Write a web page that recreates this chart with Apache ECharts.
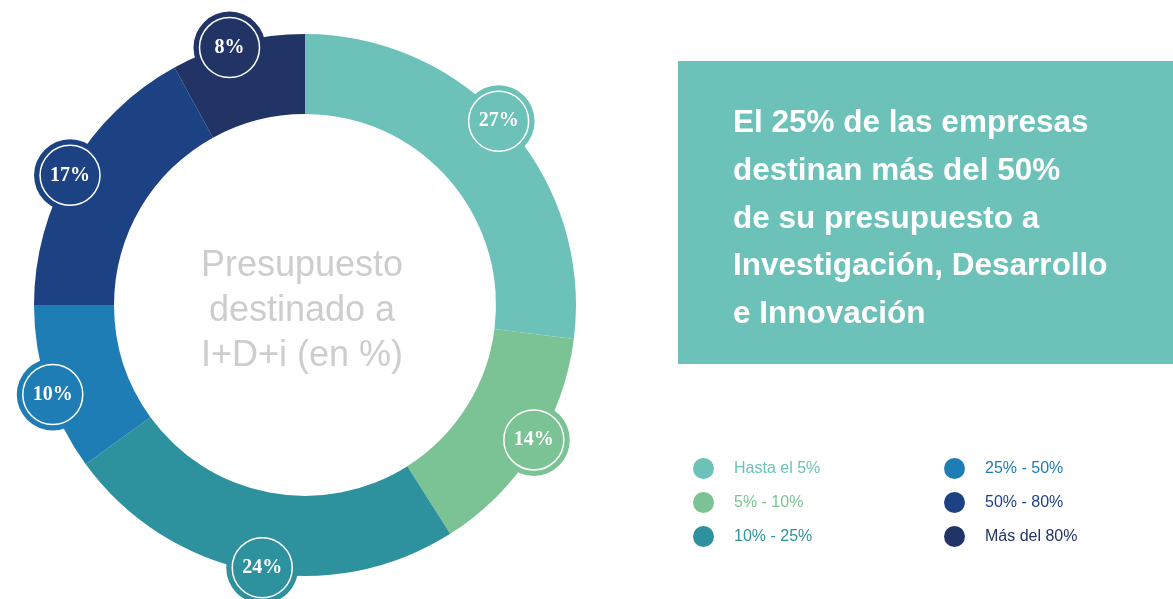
<!DOCTYPE html>
<html>
<head>
<meta charset="utf-8">
<script src="https://cdn.jsdelivr.net/npm/echarts@6/dist/echarts.min.js"></script>
<style>
  html, body { margin: 0; padding: 0; background: #fff; }
  #main { width: 1173px; height: 599px; }
</style>
</head>
<body>
<div id="main"></div>
<script>
// categorias y valores (% de empresas)
var categories = ['Hasta el 5%', '5% - 10%', '10% - 25%', '25% - 50%', '50% - 80%', 'Más del 80%'];
var shares = [27, 14, 24, 10, 17, 8];
var colors = ['#6cc2b8', '#7bc394', '#2e929e', '#1e7db5', '#1d4283', '#223466'];
var headline = ['El 25% de las empresas', 'destinan más del 50%', 'de su presupuesto a',
    'Investigación, Desarrollo', 'e Innovación'];
var centerText = ['Presupuesto', 'destinado a', 'I+D+i (en %)'];

var myChart = echarts.init(document.getElementById('main'));

// posicion angular de cada etiqueta (mitad de cada sector)
var badgeData = [];
var acc = 0;
shares.forEach(function(v, i) {
    badgeData.push({ value: [1, acc + v / 2], itemStyle: { color: colors[i] } });
    acc += v;
});

var pieData = categories.map(function(name, i) {
    return { name: name, value: shares[i], itemStyle: { color: colors[i] } };
});

function legendItems(from, to) {
    return categories.slice(from, to).map(function(name, i) {
        return { name: name, textStyle: { color: colors[from + i] } };
    });
}

var legendBase = {
    orient: 'vertical',
    top: 458,
    padding: 0,
    icon: 'circle',
    itemWidth: 21,
    itemHeight: 21,
    itemGap: 13,
    selectedMode: false,
    textStyle: {
        fontFamily: 'Liberation Sans, Arial, sans-serif',
        fontSize: 16,
        padding: [0, 0, 0, 15]
    }
};

var option = {
    animation: false,
    legend: [
        Object.assign({}, legendBase, { left: 693, data: legendItems(0, 3) }),
        Object.assign({}, legendBase, { left: 944, data: legendItems(3, 6) })
    ],
    polar: {
        center: [304, 304],
        radius: 267
    },
    angleAxis: {
        type: 'value',
        min: 0,
        max: 100,
        startAngle: 91.8,
        clockwise: true,
        show: false
    },
    radiusAxis: {
        type: 'value',
        min: 0,
        max: 1,
        show: false
    },
    graphic: [
        {
            type: 'rect',
            shape: { x: 678, y: 61, width: 495, height: 303 },
            style: { fill: '#6cc2b8' }
        },
        {
            type: 'text',
            style: {
                x: 733,
                y: 219,
                text: headline.join('\n'),
                fill: '#ffffff',
                font: 'bold 31.5px "Liberation Sans", Arial, sans-serif',
                lineHeight: 47.8,
                align: 'left',
                verticalAlign: 'middle'
            }
        },
        {
            type: 'text',
            z: 10,
            style: {
                x: 302,
                y: 311,
                text: centerText.join('\n'),
                fill: '#cdcdcd',
                font: '36px "Liberation Sans", Arial, sans-serif',
                lineHeight: 45,
                align: 'center',
                verticalAlign: 'middle'
            }
        }
    ],
    series: [
        {
            name: 'I+D+i',
            type: 'pie',
            center: [305, 305],
            radius: [191, 271],
            startAngle: 90,
            clockwise: true,
            silent: true,
            label: { show: false },
            labelLine: { show: false },
            itemStyle: { borderWidth: 0 },
            data: pieData
        },
        {
            type: 'scatter',
            coordinateSystem: 'polar',
            symbol: 'circle',
            symbolSize: 72,
            silent: true,
            itemStyle: { opacity: 1 },
            data: badgeData
        },
        {
            type: 'scatter',
            coordinateSystem: 'polar',
            symbol: 'circle',
            symbolSize: 60,
            silent: true,
            itemStyle: {
                color: 'rgba(0,0,0,0)',
                opacity: 1,
                borderColor: '#ffffff',
                borderWidth: 1.5
            },
            label: {
                show: true,
                position: 'inside',
                color: '#ffffff',
                fontFamily: 'Liberation Serif, Times New Roman, serif',
                fontWeight: 'bold',
                fontSize: 20,
                formatter: function(p) {
                    return shares[p.dataIndex] + '%';
                }
            },
            data: badgeData.map(function(d) { return d.value; })
        }
    ]
};

myChart.setOption(option);
</script>
</body>
</html>
